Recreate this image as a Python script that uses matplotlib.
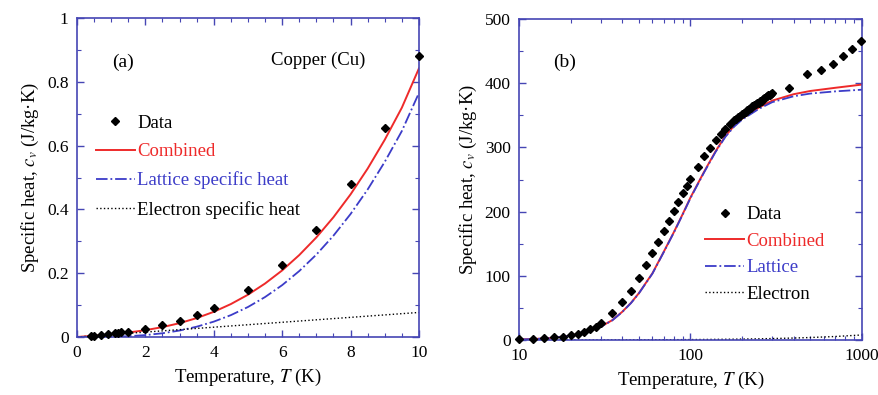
import matplotlib
matplotlib.use("Agg")
import matplotlib.pyplot as plt
from matplotlib.ticker import MultipleLocator, FuncFormatter, LogLocator, NullFormatter

# ---- panel (a): low temperature, linear scale ----
a_data_T = [0.4, 0.5, 0.7, 0.9, 1.1, 1.2, 1.3, 1.5, 2.0, 2.5, 3.0, 3.5, 4.0, 5.0, 6.0, 7.0, 8.0, 9.0, 10.0]
a_data_c = [0.003, 0.004, 0.006, 0.008, 0.012, 0.014, 0.015, 0.017, 0.026, 0.037, 0.051, 0.069,
            0.090, 0.146, 0.227, 0.336, 0.479, 0.656, 0.881]

a_curve_T = [0.0, 0.5, 1.0, 1.5, 2.0, 2.5, 3.0, 3.5, 4.0, 4.5, 5.0, 5.5, 6.0, 6.5, 7.0, 7.5,
             8.0, 8.5, 9.0, 9.5, 10.0]
a_lattice = [0.0, 0.0001, 0.0008, 0.0025, 0.006, 0.0118, 0.0203, 0.0323, 0.0482, 0.0686, 0.0941,
             0.1253, 0.1626, 0.2068, 0.2583, 0.3177, 0.3855, 0.4624, 0.549, 0.6456, 0.765]
a_electron = [0.0, 0.0039, 0.0077, 0.0116, 0.0154, 0.0193, 0.0231, 0.027, 0.0308, 0.0347, 0.0385,
              0.0424, 0.0462, 0.0501, 0.0539, 0.0578, 0.0616, 0.0655, 0.0693, 0.0732, 0.077]
a_combined = [0.0, 0.004, 0.0085, 0.0141, 0.0214, 0.0311, 0.0434, 0.0593, 0.079, 0.1033, 0.1326,
              0.1677, 0.2088, 0.2569, 0.3122, 0.3755, 0.4471, 0.5279, 0.6183, 0.7188, 0.842]

# ---- panel (b): wide temperature range, log scale ----
b_data_T = [10, 12, 14, 16, 18, 20, 22, 24, 26, 28, 30, 35, 40, 45, 50, 55, 60, 65, 70, 75, 80, 85,
            90, 95, 100, 110, 120, 130, 140, 150, 160, 170, 180, 185, 190, 195, 200, 205, 210, 215,
            220, 225, 230, 235, 240, 245, 250, 255, 260, 265, 270, 275, 280, 285, 290, 295, 300,
            375, 475, 575, 675, 775, 880, 985]
b_data_c = [1, 2, 3, 4.5, 5.5, 7.5, 10, 13, 17, 21, 26, 42, 60, 77, 97, 117, 135, 153, 170, 186, 201,
            215, 229, 240, 251, 270, 286, 299, 311, 321, 329, 336, 343, 345, 347, 349, 352, 354, 356,
            358, 360, 362, 364, 366, 367, 369, 370, 372, 373, 375, 377, 378, 380, 381, 382, 384, 385,
            392, 414, 421, 430, 442, 454, 466]

b_curve_T = [10, 12, 15, 20, 25, 30, 35, 40, 45, 50, 60, 70, 80, 90, 100, 120, 140, 160, 180, 200,
             250, 300, 400, 500, 700, 1000]
b_combined = [1, 1.6, 3, 7, 13, 21, 31, 44, 58, 73, 104, 138, 168, 196, 222, 262, 294, 318, 334, 345,
              362, 373, 383, 388, 393, 398]
b_lattice = [0.9, 1.5, 2.9, 6.8, 12.8, 20.8, 30.7, 43.7, 57.6, 72.6, 103.5, 137.4, 167.4, 195.3,
             221.2, 261, 292.9, 316.7, 332.6, 343.4, 360, 370.6, 379.8, 384, 387.4, 390]
b_electron = [0.08, 0.1, 0.12, 0.16, 0.2, 0.24, 0.28, 0.32, 0.36, 0.4, 0.48, 0.56, 0.64, 0.72, 0.8,
              0.96, 1.12, 1.28, 1.44, 1.6, 2.0, 2.4, 3.2, 4.0, 5.6, 8.0]

FRAME = "#4646b4"
RED = "#ee2a2a"
BLUE = "#3c3cc8"
FS = 13.5

plt.rcParams["font.family"] = ["Liberation Serif", "DejaVu Serif"]
plt.rcParams["mathtext.fontset"] = "stix"
plt.rcParams["font.size"] = FS


def style_axes(ax):
    for spine in ax.spines.values():
        spine.set_color(FRAME)
        spine.set_linewidth(1.2)
    ax.tick_params(which="both", direction="in", top=True, right=True, color=FRAME,
                   labelsize=12.5, pad=6)
    ax.tick_params(which="major", length=5, width=1)
    ax.tick_params(which="minor", length=3, width=0.8)


fig = plt.figure(figsize=(8.79, 3.95), dpi=100)
ax_a = fig.add_axes([0.0876, 0.1468, 0.389, 0.8076])
ax_b = fig.add_axes([0.5904, 0.139, 0.3902, 0.8127])

# panel (a)
ax_a.plot(a_data_T, a_data_c, "D", color="black", markersize=4, label="Data", clip_on=False, zorder=5)
ax_a.plot(a_curve_T, a_combined, "-", color=RED, linewidth=1.4, label="Combined")
ax_a.plot(a_curve_T, a_lattice, "-.", color=BLUE, linewidth=1.3, label="Lattice specific heat")
ax_a.plot(a_curve_T, a_electron, ":", color="black", linewidth=1.0, label="Electron specific heat")
ax_a.set_xlim(0, 10)
ax_a.set_ylim(0, 1)
ax_a.xaxis.set_major_locator(MultipleLocator(2))
ax_a.xaxis.set_minor_locator(MultipleLocator(0.5))
ax_a.yaxis.set_major_locator(MultipleLocator(0.2))
ax_a.yaxis.set_minor_locator(MultipleLocator(0.1))
ax_a.yaxis.set_major_formatter(FuncFormatter(lambda v, p: f"{v:g}"))
ax_a.set_xlabel("Temperature, $T$ (K)")
ax_a.set_ylabel("Specific heat, $c_v$ (J/kg·K)")
style_axes(ax_a)
ax_a.text(0.135, 0.862, "(a)", transform=ax_a.transAxes, ha="center", va="center", fontsize=14)
ax_a.text(0.705, 0.868, "Copper (Cu)", transform=ax_a.transAxes, ha="center", va="center", fontsize=FS)
ax_a.legend(loc="upper left", bbox_to_anchor=(0.033, 0.72), frameon=False,
            handlelength=2.1, handletextpad=0.1, labelspacing=0.6, borderaxespad=0,
            labelcolor=["black", RED, BLUE, "black"], fontsize=FS)

# panel (b)
ax_b.plot(b_data_T, b_data_c, "D", color="black", markersize=4, label="Data", clip_on=False, zorder=5)
ax_b.plot(b_curve_T, b_combined, "-", color=RED, linewidth=1.4, label="Combined")
ax_b.plot(b_curve_T, b_lattice, "-.", color=BLUE, linewidth=1.3, label="Lattice")
ax_b.plot(b_curve_T, b_electron, ":", color="black", linewidth=1.0, label="Electron")
ax_b.set_xscale("log")
ax_b.set_xlim(10, 1000)
ax_b.set_ylim(0, 500)
ax_b.xaxis.set_major_formatter(FuncFormatter(lambda v, p: f"{v:g}"))
ax_b.xaxis.set_minor_locator(LogLocator(base=10, subs=range(2, 10)))
ax_b.xaxis.set_minor_formatter(NullFormatter())
ax_b.yaxis.set_major_locator(MultipleLocator(100))
ax_b.yaxis.set_minor_locator(MultipleLocator(50))
ax_b.set_xlabel("Temperature, $T$ (K)")
ax_b.set_ylabel("Specific heat, $c_v$ (J/kg·K)")
style_axes(ax_b)
ax_b.text(0.134, 0.866, "(b)", transform=ax_b.transAxes, ha="center", va="center", fontsize=14)
ax_b.legend(loc="upper left", bbox_to_anchor=(0.52, 0.44), frameon=False,
            handlelength=2.1, handletextpad=0.1, labelspacing=0.5, borderaxespad=0,
            labelcolor=["black", RED, BLUE, "black"], fontsize=FS)

fig.savefig("out.png", dpi=100)
